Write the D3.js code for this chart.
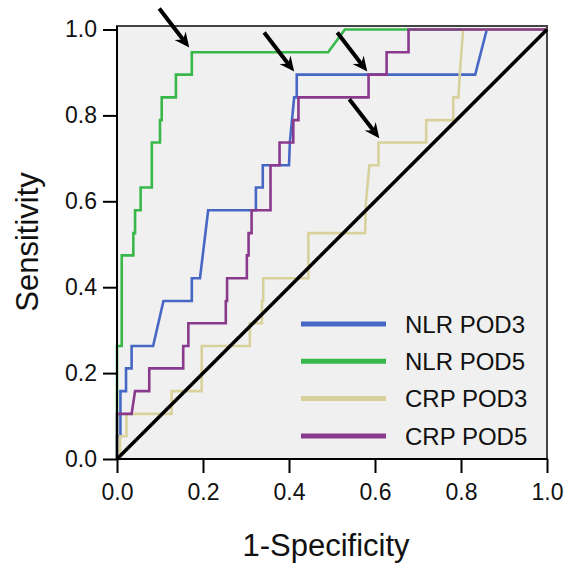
<!DOCTYPE html>
<html>
<head>
<meta charset="utf-8">
<script src="https://cdn.jsdelivr.net/npm/d3@7"></script>
<style>
  body { margin: 0; background: #fff; }
  text { font-family: "Liberation Sans", Arial, sans-serif; fill: #111; }
</style>
</head>
<body>
<svg></svg>
<script>
// ROC-кривые: [1-специфичность, чувствительность]
const nlrPod3 = [[0,0],[0,0.053],[0.008,0.053],[0.008,0.158],[0.021,0.158],[0.021,0.211],[0.034,0.211],[0.034,0.263],
  [0.084,0.263],[0.108,0.368],[0.174,0.368],[0.174,0.421],[0.193,0.421],[0.212,0.579],[0.323,0.579],[0.323,0.632],
  [0.339,0.632],[0.339,0.684],[0.40,0.684],[0.402,0.737],[0.412,0.842],[0.418,0.842],[0.418,0.895],[0.833,0.895],
  [0.86,1],[1,1]];
const nlrPod5 = [[0,0],[0,0.263],[0.011,0.263],[0.011,0.474],[0.038,0.474],[0.038,0.526],[0.042,0.526],[0.042,0.579],
  [0.055,0.579],[0.055,0.632],[0.081,0.632],[0.081,0.737],[0.1,0.737],[0.1,0.789],[0.104,0.789],[0.104,0.842],
  [0.137,0.842],[0.137,0.895],[0.174,0.895],[0.174,0.947],[0.491,0.947],[0.53,1],[1,1]];
const crpPod3 = [[0,0],[0.007,0],[0.007,0.053],[0.022,0.053],[0.022,0.105],[0.127,0.105],[0.127,0.158],[0.197,0.158],
  [0.197,0.263],[0.309,0.263],[0.309,0.316],[0.337,0.316],[0.337,0.368],[0.34,0.368],[0.34,0.421],[0.445,0.421],
  [0.445,0.526],[0.577,0.526],[0.579,0.60],[0.587,0.684],[0.608,0.684],[0.608,0.737],[0.719,0.737],[0.719,0.789],
  [0.782,0.789],[0.782,0.842],[0.794,0.842],[0.797,0.895],[0.805,1],[1,1]];
const crpPod5 = [[0,0],[0,0.105],[0.034,0.105],[0.042,0.158],[0.075,0.158],[0.075,0.211],[0.154,0.211],[0.154,0.263],
  [0.166,0.263],[0.166,0.316],[0.253,0.316],[0.253,0.368],[0.256,0.368],[0.256,0.421],[0.302,0.421],[0.302,0.474],
  [0.306,0.474],[0.306,0.526],[0.313,0.526],[0.313,0.579],[0.357,0.579],[0.357,0.684],[0.378,0.684],[0.378,0.737],
  [0.41,0.737],[0.41,0.789],[0.422,0.789],[0.422,0.842],[0.585,0.842],[0.585,0.895],[0.627,0.895],[0.627,0.947],
  [0.678,0.947],[0.678,1],[1,1]];

const seriesNames = ["NLR POD3", "NLR POD5", "CRP POD3", "CRP POD5"];
const seriesColors = ["#4767c4", "#38b84a", "#d8d19c", "#893a8c"];
const seriesData = [nlrPod3, nlrPod5, crpPod3, crpPod5];

// точки, на которые указывают стрелки
const arrowTips = [[0.168,0.958],[0.412,0.902],[0.582,0.902],[0.61,0.747]];

const ticks = [0, 0.2, 0.4, 0.6, 0.8, 1.0];

const width = 567;
const height = 572;
const plotLeft = 117, plotRight = 547, plotTop = 29.5, plotBottom = 459;

let svg = d3.select("svg")
  .attr("width", width)
  .attr("height", height);

let scX = d3.scaleLinear().domain([0, 1]).range([plotLeft, plotRight]);
let scY = d3.scaleLinear().domain([0, 1]).range([plotBottom, plotTop]);

// фон области построения
svg.append("rect")
  .attr("x", plotLeft).attr("y", plotTop - 3.5)
  .attr("width", plotRight - plotLeft).attr("height", plotBottom - plotTop + 3.5)
  .attr("fill", "#f0f0f0")
  .attr("stroke", "#444")
  .attr("stroke-width", 2);

let line = d3.line().x(d => scX(d[0])).y(d => scY(d[1]));

// кривые в порядке легенды
seriesData.forEach((data, i) => {
  svg.append("path")
    .attr("d", line(data))
    .attr("fill", "none")
    .attr("stroke", seriesColors[i])
    .attr("stroke-width", 2.6)
    .attr("stroke-linejoin", "miter");
});

// диагональ поверх кривых
svg.append("line")
  .attr("x1", scX(0)).attr("y1", scY(0))
  .attr("x2", scX(1)).attr("y2", scY(1))
  .attr("stroke", "#000")
  .attr("stroke-width", 3.5);

// оси
let axisX = d3.axisBottom(scX).tickValues(ticks).tickFormat(d3.format(".1f"))
  .tickSize(14).tickSizeOuter(0).tickPadding(11);
let axisY = d3.axisLeft(scY).tickValues(ticks).tickFormat(d3.format(".1f"))
  .tickSize(14).tickSizeOuter(0).tickPadding(6);

let gx = svg.append("g").attr("transform", `translate(0, ${plotBottom})`).call(axisX);
let gy = svg.append("g").attr("transform", `translate(${plotLeft}, 0)`).call(axisY);

[gx, gy].forEach(g => {
  g.select(".domain").remove();
  g.selectAll(".tick line").attr("stroke", "#000").attr("stroke-width", 2);
  g.selectAll(".tick text").style("font-size", "23px").attr("fill", "#111");
});

// линии осей
svg.append("line").attr("x1", plotLeft).attr("x2", plotLeft).attr("y1", plotTop - 3.5).attr("y2", plotBottom + 1)
  .attr("stroke", "#000").attr("stroke-width", 2);
svg.append("line").attr("x1", plotLeft - 1).attr("x2", plotRight + 1).attr("y1", plotBottom).attr("y2", plotBottom)
  .attr("stroke", "#000").attr("stroke-width", 2);

// подписи осей
svg.append("text")
  .attr("transform", "translate(38, 242) rotate(-90)")
  .attr("text-anchor", "middle")
  .style("font-size", "31px")
  .text("Sensitivity");

svg.append("text")
  .attr("x", 326).attr("y", 556)
  .attr("text-anchor", "middle")
  .style("font-size", "31px")
  .text("1-Specificity");

// легенда
seriesNames.forEach((name, i) => {
  let ly = 324 + i * 37.3;
  svg.append("line")
    .attr("x1", 301).attr("x2", 386)
    .attr("y1", ly).attr("y2", ly)
    .attr("stroke", seriesColors[i])
    .attr("stroke-width", 5);
  svg.append("text")
    .attr("x", 405).attr("y", ly)
    .attr("dy", "0.36em")
    .style("font-size", "24px")
    .text(name);
});

// стрелки
const arrowDx = -30, arrowDy = -39;
arrowTips.forEach(p => {
  let tx = scX(p[0]), ty = scY(p[1]);
  let len = Math.hypot(arrowDx, arrowDy);
  let ux = -arrowDx / len, uy = -arrowDy / len; // направление к острию
  let headL = 15, headW = 7;
  let bx = tx - ux * headL, by = ty - uy * headL;
  svg.append("line")
    .attr("x1", tx + arrowDx).attr("y1", ty + arrowDy)
    .attr("x2", tx - ux * 8).attr("y2", ty - uy * 8)
    .attr("stroke", "#000").attr("stroke-width", 4);
  svg.append("path")
    .attr("d", `M${tx},${ty} L${bx - uy * headW},${by + ux * headW} L${tx - ux * 10},${ty - uy * 10} L${bx + uy * headW},${by - ux * headW} Z`)
    .attr("fill", "#000");
});
</script>
</body>
</html>
